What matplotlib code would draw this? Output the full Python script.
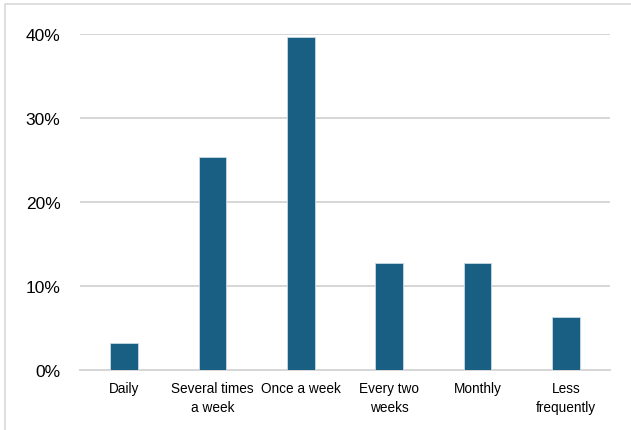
import matplotlib.pyplot as plt
from matplotlib.ticker import PercentFormatter
from matplotlib.patches import Rectangle

categories = ['Daily', 'Several times\na week', 'Once a week', 'Every two\nweeks', 'Monthly', 'Less\nfrequently']
shares = [3.17, 25.4, 39.7, 12.7, 12.7, 6.35]

plt.rcParams['font.family'] = ['Liberation Sans', 'DejaVu Sans']

fig = plt.figure(figsize=(6.31, 4.31), dpi=100)
ax = fig.add_axes([80 / 631, 1 - 371 / 431, 530 / 631, 336 / 431])

x = range(len(categories))
ax.bar(x, shares, width=0.31, color='#185f83', edgecolor='#c8dbe6', linewidth=0.6, zorder=3)

ax.set_xlim(-0.5, len(categories) - 0.5)
ax.set_ylim(0, 40)
ax.set_yticks([0, 10, 20, 30, 40])
ax.yaxis.set_major_formatter(PercentFormatter(decimals=0))
ax.set_xticks(list(x))
ax.set_xticklabels(categories, fontsize=9.8, linespacing=1.45)
ax.tick_params(axis='y', labelsize=12.5, length=0, pad=14)
ax.tick_params(axis='x', length=0, pad=8)

ax.grid(axis='y', color='#d6d6d6', linewidth=1.4, zorder=0)
ax.set_axisbelow(True)
for s in ['top', 'right', 'left']:
    ax.spines[s].set_visible(False)
ax.spines['bottom'].set_color('#d6d6d6')
ax.spines['bottom'].set_linewidth(1.4)

fig.patches.append(Rectangle((5 / 631, -0.1), 1.2, (1 - 5 / 431) + 0.1, transform=fig.transFigure,
                             fill=False, edgecolor='#d9d9d9', linewidth=1.2))

fig.savefig('out.png', dpi=100)
